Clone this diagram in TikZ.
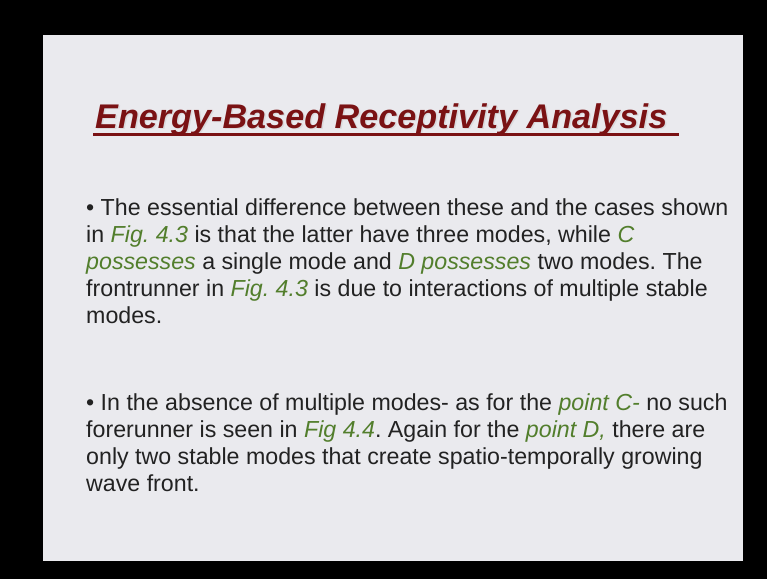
\documentclass[tikz,border=0pt]{standalone}
\usepackage{fontspec}
\setmainfont{Liberation Sans}
\frenchspacing
\definecolor{slidegrey}{HTML}{EAEAEE}
\definecolor{titlered}{HTML}{7A1214}
\definecolor{hlgreen}{HTML}{527E2C}
\definecolor{bodytext}{HTML}{222222}
\newcommand{\hl}[1]{\textcolor{hlgreen}{\textit{#1}}}
\tikzset{
  bodyline/.style={anchor=base west, inner sep=0pt, text=bodytext,
    font=\fontsize{23.2}{27}\selectfont},
  titletext/.style={anchor=base west, inner sep=0pt,
    font=\fontsize{34.2}{40}\selectfont\bfseries\itshape}
}
\begin{document}
\begin{tikzpicture}[x=1pt,y=-1pt]
\useasboundingbox (0,0) rectangle (767,579);
\fill[black] (0,0) rectangle (767,579);
\fill[slidegrey] (43,35) rectangle (743,561);
% title with its soft shadow and underline
\node[titletext, text=gray!50, opacity=0.35] (shadow) at (96.5,129.5) {Energy-Based Receptivity Analysis};
\node[titletext, text=titlered] (title) at (95,128) {Energy-Based Receptivity Analysis};
\coordinate (ulA) at (93,134.5);
\coordinate (ulB) at (679,134.5);
\draw[titlered, line width=2.5pt] (ulA) -- (ulB);
% first point
\node[bodyline] (a1) at (86,215) {\textbullet\ The essential difference between these and the cases shown};
\node[bodyline] (a2) at (86,242) {in \hl{Fig. 4.3} is that the latter have three modes, while \hl{C}};
\node[bodyline] (a3) at (86,269) {\hl{possesses} a single mode and \hl{D possesses} two modes. The};
\node[bodyline] (a4) at (86,296) {frontrunner in \hl{Fig. 4.3} is due to interactions of multiple stable};
\node[bodyline] (a5) at (86,323) {modes.};
% second point
\node[bodyline] (b1) at (86,410) {\textbullet\ In the absence of multiple modes- as for the \hl{point C-} no such};
\node[bodyline] (b2) at (86,437) {forerunner is seen in \hl{Fig 4.4}. Again for the \hl{point D,} there are};
\node[bodyline] (b3) at (86,464) {only two stable modes that create spatio-temporally growing};
\node[bodyline] (b4) at (86,491) {wave front.};
\end{tikzpicture}
\end{document}
